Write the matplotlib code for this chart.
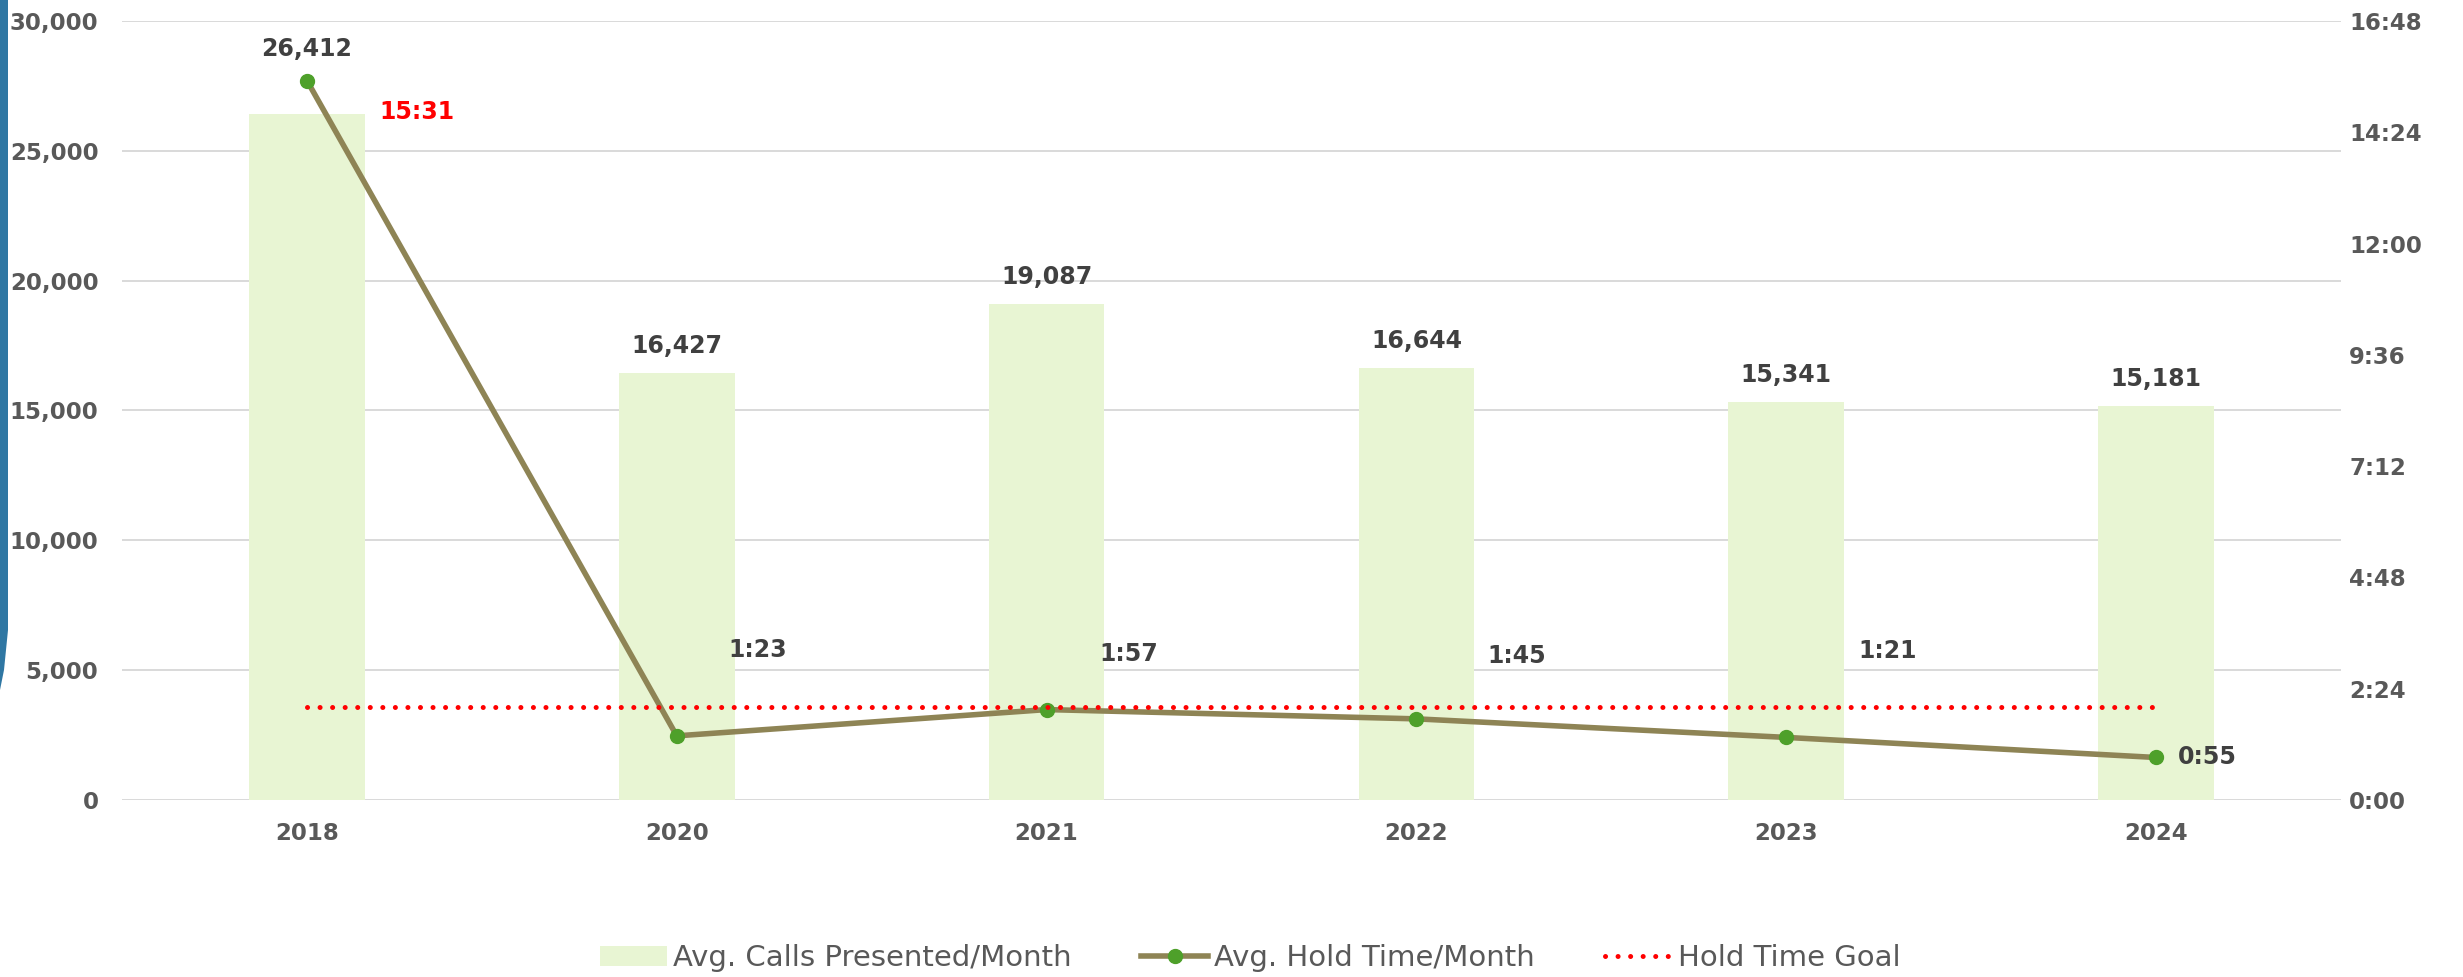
import matplotlib
matplotlib.use("Agg")
import matplotlib.pyplot as plt
from matplotlib.patches import Patch, Polygon
from matplotlib.lines import Line2D
from matplotlib.ticker import FuncFormatter, FixedLocator
import numpy as np

# ---- data ----
years = ["2018", "2020", "2021", "2022", "2023", "2024"]
calls_presented = [26412, 16427, 19087, 16644, 15341, 15181]
hold_time_sec = [931, 83, 117, 105, 81, 55]       # 15:31, 1:23, 1:57, 1:45, 1:21, 0:55
hold_goal_sec = [120, 120, 120, 120, 120, 120]    # 2:00 goal
left_ticks = [0, 5000, 10000, 15000, 20000, 25000, 30000]
right_ticks_sec = [0, 144, 288, 432, 576, 720, 864, 1008]

legend_labels = ["Avg. Calls Presented/Month", "Avg. Hold Time/Month", "Hold Time Goal"]

# ---- style ----
BAR_C = "#E8F5D3"
LINE_C = "#8E8455"
MARK_C = "#4EA02A"
GOAL_C = "#FF0000"
GRID_C = "#D9D9D9"
TICK_C = "#595959"
LABEL_C = "#404040"

plt.rcParams["font.family"] = ["DejaVu Sans"]

W, H = 2463, 977
fig = plt.figure(figsize=(W / 100, H / 100), dpi=100)
fig.patch.set_facecolor("white")

left, right, bottom, top = 122 / W, 2341 / W, 1 - 800 / H, 1 - 21 / H
ax = fig.add_axes([left, bottom, right - left, top - bottom])
ax2 = ax.twinx()

x = np.arange(len(years))

# bars
ax.bar(x, calls_presented, width=0.313, color=BAR_C, zorder=2)
ax.set_xlim(-0.5, len(years) - 0.5)
ax.set_ylim(0, 30000)
ax.yaxis.set_major_locator(FixedLocator(left_ticks))
ax.yaxis.set_major_formatter(FuncFormatter(lambda v, p: f"{int(v):,}"))
ax.grid(axis="y", color=GRID_C, linewidth=1.4, zorder=0)
ax.set_axisbelow(True)
ax.set_xticks(x)
ax.set_xticklabels(years)
for s in ax.spines.values():
    s.set_visible(False)
for s in ax2.spines.values():
    s.set_visible(False)
ax.tick_params(axis="y", length=0, pad=17, labelsize=16.5, labelcolor=TICK_C)
ax.tick_params(axis="x", length=0, pad=16, labelsize=16.5, labelcolor=TICK_C)
for t in ax.get_yticklabels() + ax.get_xticklabels():
    t.set_fontweight("bold")

# bar labels
bar_label_offsets = [47, 19.5, 19.5, 19.5, 19.5, 19.5]
for xi, v, off in zip(x, calls_presented, bar_label_offsets):
    ax.annotate(f"{v:,}", (xi, v), xytext=(0, off), textcoords="offset points",
                ha="center", va="center", fontsize=17, fontweight="bold",
                color=LABEL_C, zorder=6)

# lines on secondary axis
ax2.set_ylim(0, 1008)
ax2.yaxis.set_major_locator(FixedLocator(right_ticks_sec))
ax2.yaxis.set_major_formatter(FuncFormatter(lambda s, p: f"{int(s) // 60}:{int(s) % 60:02d}"))
ax2.tick_params(axis="y", length=0, pad=6, labelsize=16.5, labelcolor=TICK_C)
for t in ax2.get_yticklabels():
    t.set_fontweight("bold")

ax2.plot(x, hold_time_sec, color=LINE_C, linewidth=4, marker="o",
         markersize=10, markerfacecolor=MARK_C, markeredgecolor=MARK_C, zorder=4)
ax2.plot(x, hold_goal_sec, color=GOAL_C, linewidth=3.6, linestyle=(0, (0.01, 2.5)),
         dash_capstyle="round", zorder=5)

hold_offsets = [(79, -23), (58, 62), (59, 40), (72, 45), (73, 62), (37, 0)]
for i, (xi, s) in enumerate(zip(x, hold_time_sec)):
    txt = f"{s // 60}:{s % 60:02d}"
    col = GOAL_C if s > hold_goal_sec[i] * 2 else LABEL_C
    ax2.annotate(txt, (xi, s), xytext=hold_offsets[i], textcoords="offset points",
                 ha="center", va="center", fontsize=17, fontweight="bold",
                 color=col, zorder=6)

# legend
handles = [
    Patch(facecolor=BAR_C, edgecolor="none"),
    Line2D([0], [0], color=LINE_C, linewidth=4, marker="o", markersize=10,
           markerfacecolor=MARK_C, markeredgecolor=MARK_C),
    Line2D([0], [0], color=GOAL_C, linewidth=3.6, linestyle=(0, (0.01, 2.5)),
           dash_capstyle="round"),
]
leg = fig.legend(handles, legend_labels, loc="center", ncol=3, frameon=False,
                 bbox_to_anchor=(1250 / W, 1 - 958 / H), fontsize=21,
                 handlelength=2.3, handletextpad=0.2, columnspacing=2.4)
for t in leg.get_texts():
    t.set_color(TICK_C)

# decorative blue slide edge at the left
pts = [(0, 0), (8, 0), (8, 630), (4, 670), (0, 690)]
poly = Polygon([(px / W, 1 - py / H) for px, py in pts], closed=True,
               transform=fig.transFigure, facecolor="#2F77A3", edgecolor="none")
fig.patches.append(poly)

fig.savefig("out.png", dpi=100, facecolor="white")
